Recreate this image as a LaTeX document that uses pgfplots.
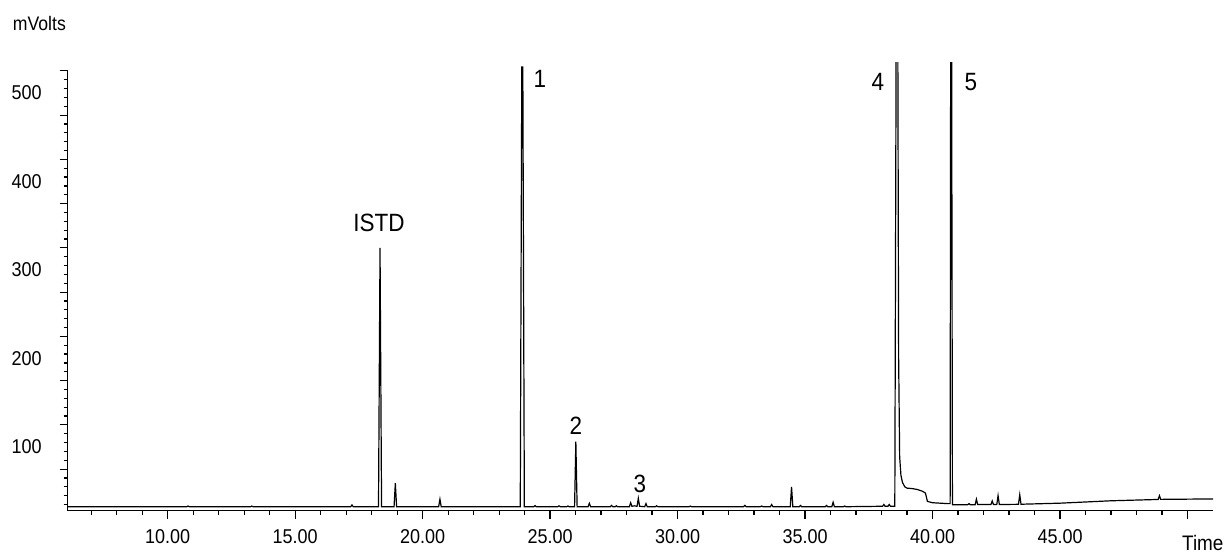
\documentclass[border=0pt]{standalone}
\usepackage{fontspec}
\setmainfont{Liberation Sans}[FakeStretch=0.9]
\usepackage{pgfplots}
\pgfplotsset{compat=1.18}
\begin{document}
\begin{tikzpicture}
\begin{axis}[
  scale only axis, width=572.65pt, height=220.35pt,
  xmin=6.08, xmax=51.0, ymin=28, ymax=526,
  axis x line=bottom, axis y line=left,
  axis line style={-, line width=0.8pt},
  clip=false,
  tick align=outside,
  xtick={10,15,...,50},
  xticklabels={10.00,15.00,20.00,25.00,30.00,35.00,40.00,45.00,{}},
  minor xtick={7,...,50},
  ytick={75,125,...,525}, yticklabels={},
  minor ytick={35,45,...,525},
  extra y ticks={100,200,300,400,500},
  extra y tick labels={100,200,300,400,500},
  extra y tick style={major tick length=0pt},
  major tick length=4pt, minor tick length=2pt,
  tick style={black, line width=0.6pt},
  ticklabel style={font=\fontsize{10}{12}\selectfont},
  yticklabel style={xshift=-9.5pt},
  xticklabel style={yshift=-2pt},
  unbounded coords=jump,
]
\addplot[black, line width=0.6pt, mark=none] coordinates {
(6.08,32.5) (10.75,32.5) (10.8,33.3) (10.85,32.5)
(13.25,32.5) (13.3,33.2) (13.35,32.5)
(17.18,32.5) (17.23,34.5) (17.28,32.5)
(18.27,32.5) (18.33,325) (18.39,32.5)
(18.88,32.5) (18.93,59) (18.98,32.5)
(20.63,32.5) (20.68,41) (20.73,32.5)
(23.83,32.5) (23.89,529.4) (23.93,529.4) (23.99,32.5)
(24.36,32.5) (24.41,33.8) (24.46,32.5)
(25.30,32.5) (25.35,33.5) (25.40,32.5)
(25.65,32.5) (25.70,33.3) (25.75,32.5)
(25.96,32.5) (26.01,106) (26.06,32.5)
(26.49,32.5) (26.54,36.4) (26.59,32.5)
(27.36,32.5) (27.41,34) (27.46,32.5)
(27.55,32.5) (27.60,33.5) (27.65,32.5)
(28.11,32.5) (28.16,37) (28.21,33)
(28.30,33.5) (28.41,33) (28.46,42) (28.51,33)
(28.71,32.5) (28.76,36) (28.81,32.5)
(29.13,32.5) (29.18,33.5) (29.23,32.5)
(30.45,32.5) (30.50,33.2) (30.55,32.5)
(32.59,32.5) (32.64,34) (32.69,32.5)
(33.25,32.5) (33.30,33.3) (33.35,32.5)
(33.64,32.5) (33.69,35) (33.74,32.5)
(34.42,32.5) (34.47,55) (34.52,32.5)
(34.77,32.5) (34.82,34) (34.87,32.5)
(35.79,32.5) (35.84,34) (35.89,32.5)
(36.05,32.5) (36.10,37.5) (36.15,32.5)
(36.50,32.5) (36.55,33.3) (36.60,32.5)
(38.04,33) (38.09,35) (38.14,33)
(38.25,33) (38.30,35) (38.35,33)
(38.52,33) (38.57,535)
(38.60,nan)
(38.64,535) (38.67,200) (38.71,89) (38.76,68) (38.82,60) (38.91,55)
(39.0,53.5) (39.2,53) (39.4,52) (39.6,50) (39.72,48) (39.8,38.5)
(40.0,37) (40.3,36.5) (40.6,36) (40.69,36) (40.71,535)
(40.73,nan)
(40.75,535) (40.78,34.8)
(41.38,34.8) (41.43,36) (41.48,34.8)
(41.67,34.8) (41.72,41) (41.77,34.9)
(42.29,35) (42.34,39) (42.39,35)
(42.52,35) (42.57,45) (42.62,35)
(43.37,35.2) (43.42,46) (43.47,35.3)
(45,36.5) (47,39.2)
(48.85,40.7) (48.9,45) (48.95,40.8)
(51,41.3)
};
\node[font=\fontsize{12.5}{14}\selectfont] at (axis cs:18.29,353.7) {ISTD};
\node[font=\fontsize{12.5}{14}\selectfont] at (axis cs:24.6,515.8) {1};
\node[font=\fontsize{12.5}{14}\selectfont] at (axis cs:26.01,124) {2};
\node[font=\fontsize{12.5}{14}\selectfont] at (axis cs:28.52,58.2) {3};
\node[font=\fontsize{12.5}{14}\selectfont] at (axis cs:37.86,512.8) {4};
\node[font=\fontsize{12.5}{14}\selectfont] at (axis cs:41.5,512.8) {5};
\node[font=\fontsize{9.8}{11}\selectfont] at (axis cs:4.97,578) {mVolts};
\node[font=\fontsize{10.5}{12}\selectfont] at (axis cs:50.6,-8.1) {Time};
\end{axis}
\pgfresetboundingbox
\path[use as bounding box] (current axis.south west) ++(-33.85pt,-22.65pt) rectangle ++(613.5pt,278pt);
\end{tikzpicture}
\end{document}
